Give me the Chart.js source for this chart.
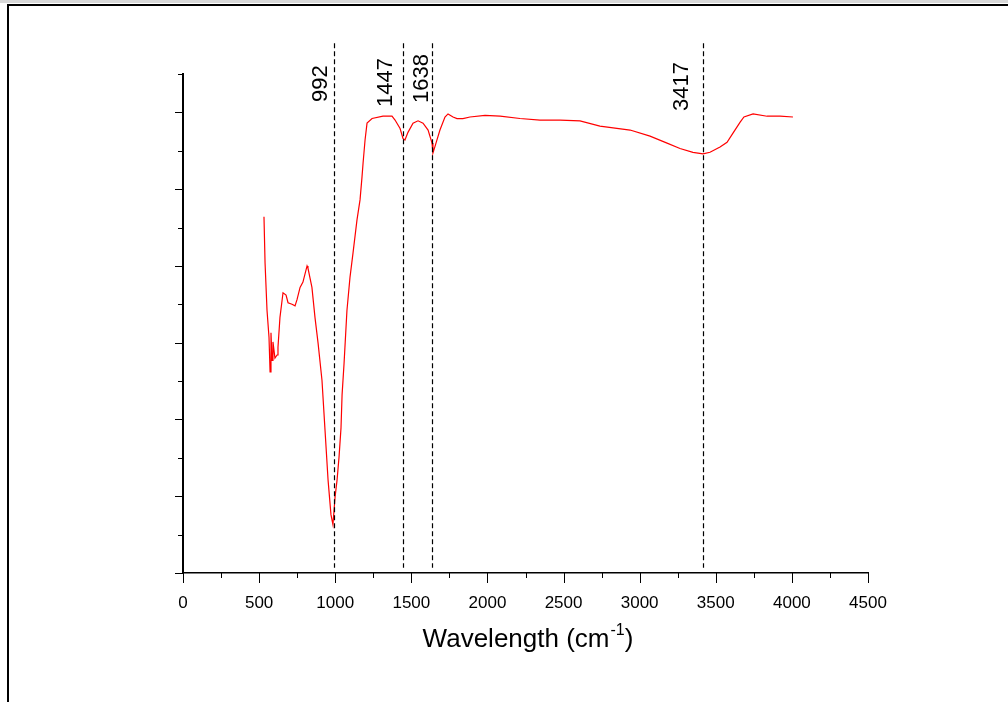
<!DOCTYPE html>
<html>
<head>
<meta charset="utf-8">
<script src="https://cdn.jsdelivr.net/npm/chart.js@4.4.0/dist/chart.umd.min.js"></script>
<style>
  html, body { margin: 0; padding: 0; background: #fff; }
  #wrap { width: 1008px; height: 702px; position: relative; }
</style>
</head>
<body>
<div id="wrap"><canvas id="ftir" width="1008" height="702"></canvas></div>
<script>
// spectrum (wavenumber, arbitrary transmittance units)
let wavenumbers = [532, 539, 552, 565, 572, 578, 585, 591, 604, 618, 624, 637, 657, 677, 690, 716, 736, 749, 769, 788,
  815, 821, 847, 867, 887, 913, 933, 953, 972, 985, 999, 1012, 1025, 1038, 1045, 1058, 1077, 1097, 1117, 1143,
  1163, 1176, 1183, 1196, 1209, 1242, 1314, 1373, 1393, 1426, 1445, 1458, 1478, 1511, 1544, 1577, 1610, 1636, 1642, 1662,
  1688, 1721, 1741, 1774, 1800, 1839, 1885, 1984, 2083, 2214, 2345, 2477, 2608, 2739, 2937, 3068, 3180, 3265, 3350, 3416,
  3462, 3528, 3574, 3613, 3659, 3685, 3745, 3837, 3922, 4007];
let transmittance = [4.64, 4.04, 3.42, 3.07, 2.62, 3.13, 2.77, 3.01, 2.80, 2.84, 2.94, 3.33, 3.65, 3.62, 3.52, 3.50, 3.48, 3.56, 3.72, 3.79,
  4.00, 3.97, 3.72, 3.33, 3.00, 2.51, 1.86, 1.21, 0.76, 0.63, 0.99, 1.21, 1.51, 1.89, 2.32, 2.73, 3.42, 3.85, 4.17, 4.60,
  4.86, 5.16, 5.34, 5.64, 5.86, 5.92, 5.95, 5.95, 5.90, 5.79, 5.66, 5.64, 5.74, 5.86, 5.89, 5.86, 5.77, 5.60, 5.47, 5.60,
  5.77, 5.94, 5.98, 5.94, 5.92, 5.92, 5.94, 5.96, 5.95, 5.92, 5.90, 5.90, 5.89, 5.82, 5.77, 5.69, 5.60, 5.53, 5.48, 5.46,
  5.48, 5.55, 5.61, 5.73, 5.87, 5.94, 5.98, 5.95, 5.95, 5.94];

let peaks = [992, 1447, 1638, 3417];
let peakLabels = ["992", "1447", "1638", "3417"];

let xMin = 0, xMax = 4500, xStep = 250, xLabelStep = 500;
let yMin = 0, yMax = 6.5, yStep = 0.5;

let points = wavenumbers.map((w, i) => ({x: w, y: transmittance[i]}));

// frame around the figure, axis ticks, peak markers, axis title
const decor = {
  id: "decor",
  beforeDraw(chart) {
    const c = chart.ctx;
    c.save();
    c.fillStyle = "#fff";
    c.fillRect(0, 0, chart.width, chart.height);
    c.fillStyle = "#d8d8d8";
    c.fillRect(0, 0, chart.width, 3);
    c.fillStyle = "#000";
    c.fillRect(7, 4, chart.width - 7, 2);
    c.fillRect(7, 4, 2, chart.height - 4);
    c.restore();
  },
  afterDraw(chart) {
    const c = chart.ctx;
    const xs = chart.scales.x, ys = chart.scales.y;
    const area = chart.chartArea;
    c.save();
    c.strokeStyle = "#000";
    c.lineWidth = 1;
    // x ticks, pointing down
    xs.ticks.forEach(t => {
      const px = Math.round(xs.getPixelForValue(t.value)) + 0.5;
      const len = t.value % xLabelStep === 0 ? 10 : 5;
      c.beginPath();
      c.moveTo(px, area.bottom);
      c.lineTo(px, area.bottom + len);
      c.stroke();
    });
    // y ticks, pointing left
    ys.ticks.forEach(t => {
      const py = Math.round(ys.getPixelForValue(t.value)) + 0.5;
      const len = Number.isInteger(t.value) ? 8 : 5;
      c.beginPath();
      c.moveTo(area.left, py);
      c.lineTo(area.left - len, py);
      c.stroke();
    });
    // dashed peak lines
    const labelOff = [7, 11, 4, 15];
    const labelTop = [28, 33, 29, 37];
    c.setLineDash([5, 3]);
    c.lineWidth = 1.2;
    peaks.forEach((p, i) => {
      const px = Math.round(xs.getPixelForValue(p)) + 0.5;
      c.beginPath();
      c.moveTo(px, ys.getPixelForValue(6.9));
      c.lineTo(px, ys.getPixelForValue(0.07));
      c.stroke();
    });
    c.setLineDash([]);
    c.fillStyle = "#000";
    c.font = "22px 'Liberation Sans', Arial, sans-serif";
    c.textAlign = "left";
    c.textBaseline = "alphabetic";
    peaks.forEach((p, i) => {
      const px = xs.getPixelForValue(p) - labelOff[i];
      c.save();
      c.translate(px, area.top + labelTop[i]);
      c.rotate(-Math.PI / 2);
      c.fillText(peakLabels[i], 0, 0);
      c.restore();
    });
    // axis title with superscript
    const main = "Wavelength (cm", sup = "-1", tail = ")";
    const big = "26px 'Liberation Sans', Arial, sans-serif";
    const small = "16px 'Liberation Sans', Arial, sans-serif";
    c.font = big;
    const w1 = c.measureText(main).width, w3 = c.measureText(tail).width;
    c.font = small;
    const w2 = c.measureText(sup).width;
    let tx = (area.left + area.right) / 2 - (w1 + w2 + w3) / 2 + 2;
    const ty = 647;
    c.font = big;
    c.fillText(main, tx, ty);
    c.font = small;
    c.fillText(sup, tx + w1 + 1, ty - 12);
    c.font = big;
    c.fillText(tail, tx + w1 + w2 + 1, ty);
    c.restore();
  }
};

new Chart("ftir", {
  type: "line",
  data: {
    datasets: [{
      data: points,
      borderColor: "#ff0000",
      borderWidth: 1.2,
      pointRadius: 0,
      tension: 0,
      fill: false
    }]
  },
  options: {
    responsive: false,
    animation: false,
    events: [],
    layout: {padding: {left: 0, top: 74, right: 140, bottom: 0}},
    plugins: {legend: {display: false}, tooltip: {enabled: false}},
    scales: {
      x: {
        type: "linear",
        min: xMin,
        max: xMax,
        grid: {display: false, drawTicks: false},
        border: {display: true, color: "#000", width: 1.5},
        ticks: {
          stepSize: xStep,
          autoSkip: false,
          maxRotation: 0,
          color: "#000",
          padding: 20,
          font: {family: "'Liberation Sans', Arial, sans-serif", size: 17},
          callback: v => (v % xLabelStep === 0 ? String(v) : "")
        },
        afterFit: s => { s.height = 129; }
      },
      y: {
        min: yMin,
        max: yMax,
        grid: {display: false, drawTicks: false},
        border: {display: true, color: "#000", width: 2},
        ticks: {stepSize: yStep, display: false},
        afterFit: s => { s.width = 183; }
      }
    }
  },
  plugins: [decor]
});
</script>
</body>
</html>
